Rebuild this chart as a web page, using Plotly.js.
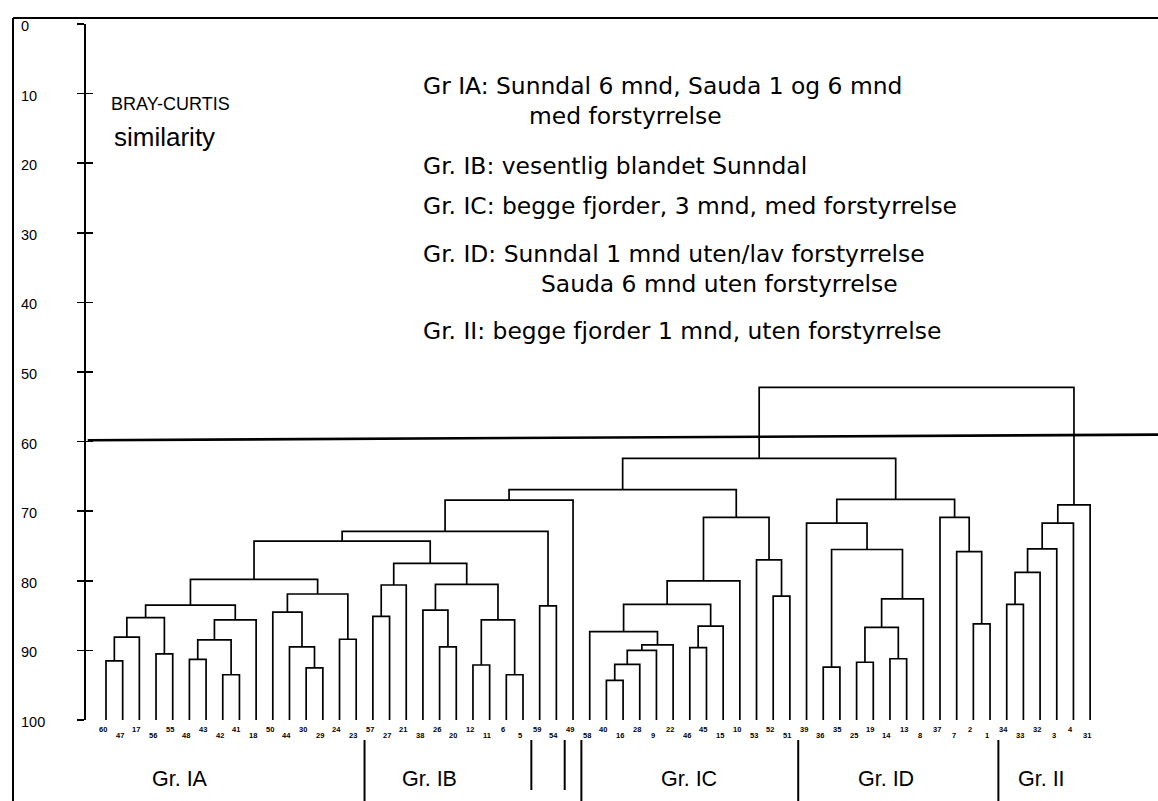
<!DOCTYPE html>
<html><head><meta charset="utf-8">
<script src="https://cdn.plot.ly/plotly-3.0.1.min.js"></script>
<style>html,body{margin:0;padding:0;background:#fff}#chart{width:1158px;height:801px}</style>
</head><body><div id="chart"></div>
<script>
// ---- data ----
const leafOrder = [60,47,17,56,55,48,43,42,41,18,50,44,30,29,24,23,57,27,21,38,26,20,12,11,6,5,59,54,49,58,
                   40,16,28,9,22,46,45,15,10,53,52,51,39,36,35,25,19,14,13,8,37,7,2,1,34,33,32,3,4,31];
// [left, right, similarity]; numbers = sample labels, '#k' = earlier merge k
const merges = [
  [60,47,91.5], ['#0',17,88.1], [56,55,90.5], ['#1','#2',85.3], [48,43,91.3], [42,41,93.5],
  ['#4','#5',88.5], ['#6',18,85.6], ['#3','#7',83.5], [30,29,92.5], [44,'#9',89.5], [50,'#10',84.5],
  [24,23,88.4], ['#11','#12',81.9], ['#8','#13',79.8],
  [57,27,85.1], ['#15',21,80.6], [26,20,89.5], [38,'#17',84.2], [12,11,92.1], [6,5,93.5],
  ['#19','#20',85.6], ['#18','#21',80.5], ['#16','#22',77.5],
  ['#14','#23',74.3], [59,54,83.6], ['#24','#25',72.9], ['#26',49,68.4],
  [40,16,94.3], ['#28',28,92.0], ['#29',9,90.0], ['#30',22,89.2], [58,'#31',87.3], [46,45,89.6],
  ['#33',15,86.5], ['#32','#34',83.4], ['#35',10,80.0], [52,51,82.2], [53,'#37',77.0], ['#36','#38',70.9],
  ['#27','#39',66.9],
  [36,35,92.4], [25,19,91.7], [14,13,91.2], ['#42','#43',86.7], ['#44',8,82.6], ['#41','#45',75.5],
  [39,'#46',71.7], [2,1,86.2], [7,'#48',75.8], [37,'#49',70.9], ['#47','#50',68.3],
  ['#40','#51',62.4],
  [34,33,83.4], ['#53',32,78.8], ['#54',3,75.4], ['#55',4,71.7], ['#56',31,69.1],
  ['#52','#57',52.2]
];
const yTicks = [0,10,20,30,40,50,60,70,80,90,100];
const cutLine = [59.8, 59.0];
const groupNames = ['Gr. IA','Gr. IB','Gr. IC','Gr. ID','Gr. II'];
const separatorAfter = [15,25,27,28,41,53];   // leaf index after which a separator is drawn
const shortSeparators = [25,27];
const legendLines = [
  'Gr IA: Sunndal 6 mnd, Sauda 1 og 6 mnd',
  'med forstyrrelse',
  'Gr. IB: vesentlig blandet Sunndal',
  'Gr. IC: begge fjorder, 3 mnd, med forstyrrelse',
  'Gr. ID: Sunndal 1 mnd uten/lav forstyrrelse',
  'Sauda 6 mnd uten forstyrrelse',
  'Gr. II: begge fjorder 1 mnd, uten forstyrrelse'
];

// ---- geometry ----
const W=1158, H=801, ML=86, MT=24, MB=81;
const PW=W-ML, PH=H-MT-MB;
const LEAF_PX=16.68, FIRST_LEAF_PX=106;
const X0 = -(FIRST_LEAF_PX-ML)/LEAF_PX, X1 = X0 + PW/LEAF_PX;
const px = p => (p-ML)/PW;
const py = p => (MT+PH-p)/PH;

// ---- build dendrogram segments ----
const pos = {};
leafOrder.forEach((l,i)=>{ pos[l]={x:i,h:100}; });
const nodes = [];
const get = r => typeof r==='string' ? nodes[+r.slice(1)] : pos[r];
const lx=[], ly=[];
merges.forEach(([a,b,h])=>{
  const A=get(a), B=get(b);
  lx.push(A.x,A.x,B.x,B.x,null); ly.push(A.h,h,h,B.h,null);
  nodes.push({x:(A.x+B.x)/2,h:h});
});

const traces = [
  {x:lx, y:ly, mode:'lines', line:{color:'#000', width:1.7}, hoverinfo:'skip'},
  {x:[X0+0.1, X1], y:cutLine, mode:'lines', line:{color:'#000', width:2.6}, hoverinfo:'skip'},
  {x:[0], y:[50], yaxis:'y2', mode:'markers', marker:{size:1, opacity:0}, hoverinfo:'skip'}
];

const ann = [];
const F = 'Liberation Sans, Arial, sans-serif';
yTicks.forEach(t=>ann.push({xref:'paper', x:px(19), xanchor:'left', yref:'y', y:t, yanchor:'middle', yshift:-2,
  text:String(t), showarrow:false, font:{family:F, size:14.5, color:'#000'}}));
leafOrder.forEach((l,i)=>ann.push({xref:'x', x:i, xshift:-3, yref:'y', y:100, yanchor:'middle',
  yshift: i%2===0 ? -9 : -15, text:String(l), showarrow:false,
  font:{family:F, size:7.5, color:'#000', weight:'bold'}}));
const groupLeft = [150,400,659,856,1016];
groupNames.forEach((g,i)=>ann.push({xref:'paper', x:px(groupLeft[i]), xanchor:'left', yref:'paper', y:py(779),
  yanchor:'middle', text:g, showarrow:false, font:{family:F, size:21.5, color:'#000'}}));
const legX = [421,527,421,421,421,539,421];
const legY = [86,116,166,206,254,284,331];
legendLines.forEach((t,i)=>ann.push({xref:'paper', x:px(legX[i]), xanchor:'left', yref:'paper', y:py(legY[i]),
  yanchor:'middle', text:t, showarrow:false, font:{family:'DejaVu Sans, sans-serif', size:23.4, color:'#000'}}));
ann.push({xref:'paper', x:px(109), xanchor:'left', yref:'paper', y:py(104), yanchor:'middle', text:'BRAY-CURTIS',
  showarrow:false, font:{family:F, size:18, color:'#000'}});
ann.push({xref:'paper', x:px(112), xanchor:'left', yref:'paper', y:py(137), yanchor:'middle', text:'similarity',
  showarrow:false, font:{family:F, size:26, color:'#000'}});

const shapes = [
  {type:'line', xref:'paper', yref:'paper', x0:px(13), x1:px(13), y0:py(18), y1:py(801), line:{color:'#000', width:2}},
  {type:'line', xref:'paper', yref:'paper', x0:px(13), x1:px(1158), y0:py(18), y1:py(18), line:{color:'#000', width:2}}
];
separatorAfter.forEach(k=>shapes.push({type:'line', xref:'x', yref:'paper', x0:k+0.5, x1:k+0.5,
  y0:py(740), y1: shortSeparators.includes(k) ? py(790) : py(801), line:{color:'#000', width:2}}));

const layout = {
  width:W, height:H, margin:{l:ML, r:0, t:MT, b:MB, pad:0},
  paper_bgcolor:'#fff', plot_bgcolor:'#fff', showlegend:false, hovermode:false,
  xaxis:{range:[X0,X1], visible:false, fixedrange:true},
  yaxis:{range:[100,0], showline:true, linecolor:'#000', linewidth:1.8, ticks:'outside', ticklen:7,
         tickwidth:1.5, tickcolor:'#000', tickvals:yTicks, showticklabels:false, showgrid:false, zeroline:false},
  yaxis2:{overlaying:'y', side:'left', range:[100,0], ticks:'inside', ticklen:7, tickwidth:1.5, tickcolor:'#000',
          tickvals:yTicks, showticklabels:false, showgrid:false, zeroline:false, showline:false},
  annotations:ann, shapes:shapes
};
Plotly.newPlot('chart', traces, layout, {staticPlot:true, displayModeBar:false});
</script></body></html>
